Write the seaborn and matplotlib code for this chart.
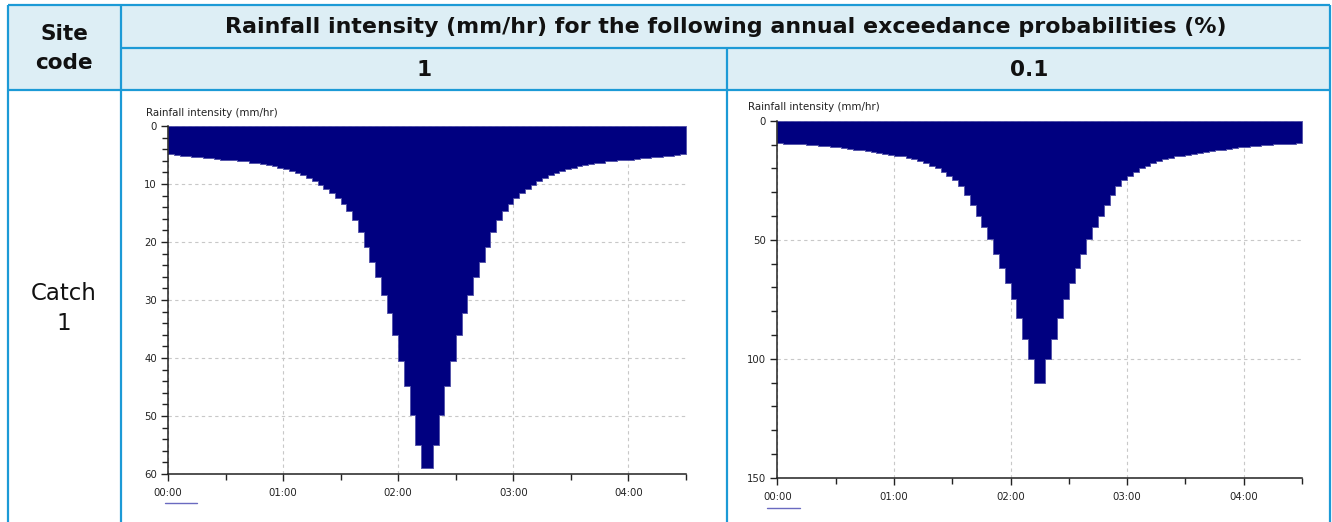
import numpy as np
import matplotlib
matplotlib.use("Agg")
import matplotlib.pyplot as plt
from matplotlib.ticker import MultipleLocator, FuncFormatter
from matplotlib.patches import Rectangle
import seaborn as sns

# --- data: 3-minute design storm profiles (mm/hr) ---
step_hours = 3 / 60
storm_hours = 4.5

aep_labels = ["1", "0.1"]
site_code = "Catch\n1"

intensity_1pct = [
    4.9, 5.0, 5.1, 5.2, 5.3, 5.4, 5.5, 5.6, 5.7, 5.8,
    5.8, 5.9, 6.0, 6.1, 6.3, 6.4, 6.6, 6.7, 6.9, 7.2,
    7.4, 7.8, 8.1, 8.5, 9.0, 9.5, 10.1, 10.8, 11.5, 12.4,
    13.5, 14.7, 16.2, 18.2, 20.8, 23.5, 26.0, 29.2, 32.3, 36.0,
    40.5, 44.9, 49.8, 55.0, 59.0,
    59.0, 55.0, 49.8, 44.9, 40.5,
    36.0, 32.3, 29.2, 26.0, 23.5, 20.8, 18.2, 16.2, 14.7, 13.5,
    12.4, 11.5, 10.8, 10.1, 9.5, 9.0, 8.5, 8.1, 7.8, 7.4,
    7.2, 6.9, 6.7, 6.6, 6.4, 6.3, 6.1, 6.0, 5.9, 5.8,
    5.8, 5.7, 5.6, 5.5, 5.4, 5.3, 5.2, 5.1, 5.0, 4.9,
]

intensity_01pct = [
    9.5, 9.6, 9.7, 9.8, 9.9, 10.1, 10.3, 10.5, 10.7, 10.9,
    11.2, 11.5, 11.8, 12.1, 12.4, 12.8, 13.1, 13.5, 13.9, 14.3,
    14.6, 15.0, 15.5, 16.1, 16.9, 17.8, 18.8, 20.0, 21.4, 23.0,
    25.0, 27.6, 31.2, 35.5, 40.0, 44.5, 49.6, 55.8, 62.0, 68.0,
    75.0, 83.0, 91.5, 100.0, 110.0,
    110.0, 100.0, 91.5, 83.0, 75.0,
    68.0, 62.0, 55.8, 49.6, 44.5, 40.0, 35.5, 31.2, 27.6, 25.0,
    23.0, 21.4, 20.0, 18.8, 17.8, 16.9, 16.1, 15.5, 15.0, 14.6,
    14.3, 13.9, 13.5, 13.1, 12.8, 12.4, 12.1, 11.8, 11.5, 11.2,
    10.9, 10.7, 10.5, 10.3, 10.1, 9.9, 9.8, 9.7, 9.6, 9.5,
]

# y-axis settings for each chart: (max, major step, minor step)
y_scales = [(60, 10, 2), (150, 50, 10)]

# --- style ---
sns.set_theme(style="white")
plt.rcParams["font.family"] = ["DejaVu Sans"]

W, H = 1332, 522
fig = plt.figure(figsize=(W / 100, H / 100), dpi=100)

border = "#1c9ad6"
header_fill = "#ddeef5"
navy = "#000080"


def px_axes(x0, y0, x1, y1):
    """add axes from pixel box (top-left origin)"""
    return fig.add_axes([x0 / W, 1 - y1 / H, (x1 - x0) / W, (y1 - y0) / H])


# background table
bg = fig.add_axes([0, 0, 1, 1], zorder=-1)
bg.set_xlim(0, W)
bg.set_ylim(H, 0)
bg.axis("off")

bg.add_patch(Rectangle((8, 5), 1322, 85, facecolor=header_fill, edgecolor="none"))
line_kw = dict(color=border, lw=1.6, solid_capstyle="butt")
bg.plot([8, 1330], [5, 5], **line_kw)
bg.plot([121, 1330], [48, 48], **line_kw)
bg.plot([8, 1330], [90, 90], **line_kw)
for x, y0 in [(8, 5), (121, 5), (727, 48), (1330, 5)]:
    bg.plot([x, x], [y0, H], **line_kw)

head_kw = dict(ha="center", va="center", fontweight="bold", color="#111111")
bg.text(64, 34, "Site", fontsize=15.6, **head_kw)
bg.text(64, 63, "code", fontsize=15.6, **head_kw)
bg.text(726, 27, "Rainfall intensity (mm/hr) for the following annual exceedance probabilities (%)",
        fontsize=15.9, **head_kw)
bg.text(424, 70, aep_labels[0], fontsize=15.6, **head_kw)
bg.text(1029, 70, aep_labels[1], fontsize=15.6, **head_kw)
for i, part in enumerate(site_code.split("\n")):
    bg.text(64, 293 + 30 * i, part, ha="center", va="center", fontsize=16.5, color="#111111")

# little legend stubs under the 00:00 labels
bg.plot([165, 197], [503, 503], color="#6a6ac0", lw=1)
bg.plot([767, 800], [507.5, 507.5], color="#6a6ac0", lw=1)

# --- the two hyetographs ---
boxes = [(168, 126, 686, 474), (777.3, 120.8, 1302, 477.7)]
series = [intensity_1pct, intensity_01pct]
label_pos = [(146, 113), (748, 107)]


def hhmm(v, pos):
    h = int(v)
    m = int(round((v - h) * 60))
    return f"{h:02d}:{m:02d}"


for box, values, (ymax, ymaj, ymin), (lx, ly) in zip(boxes, series, y_scales, label_pos):
    ax = px_axes(*box)
    times = np.arange(len(values)) * step_hours + step_hours / 2
    sns.histplot(x=times, weights=values, bins=len(values), binrange=(0, storm_hours),
                 element="step", fill=True, color=navy, alpha=1, linewidth=0.6,
                 edgecolor="#5050a8", ax=ax)
    ax.set_xlim(0, storm_hours)
    ax.set_ylim(ymax, 0)
    ax.set_xlabel("")
    ax.set_ylabel("")
    ax.set_axisbelow(True)

    ax.xaxis.set_major_locator(MultipleLocator(1))
    ax.xaxis.set_minor_locator(MultipleLocator(0.5))
    ax.xaxis.set_major_formatter(FuncFormatter(hhmm))
    ax.yaxis.set_major_locator(MultipleLocator(ymaj))
    ax.yaxis.set_minor_locator(MultipleLocator(ymin))

    ax.grid(True, which="major", color="#c8c8c8", linestyle=(0, (3, 3)), linewidth=0.8)
    for side in ["top", "right"]:
        ax.spines[side].set_visible(False)
    for side in ["left", "bottom"]:
        ax.spines[side].set_color("#222222")
        ax.spines[side].set_linewidth(1.1)

    ax.tick_params(which="both", direction="out", color="#222222", width=1,
                   left=True, bottom=True, labelsize=7.3, labelcolor="#222222")
    ax.tick_params(which="major", length=5)
    ax.tick_params(which="minor", length=4)
    ax.tick_params(axis="y", pad=3)
    ax.tick_params(axis="x", pad=5)

    bg.text(lx, ly, "Rainfall intensity (mm/hr)", ha="left", va="center",
            fontsize=7.4, color="#222222")

fig.savefig("out.png", dpi=100)
